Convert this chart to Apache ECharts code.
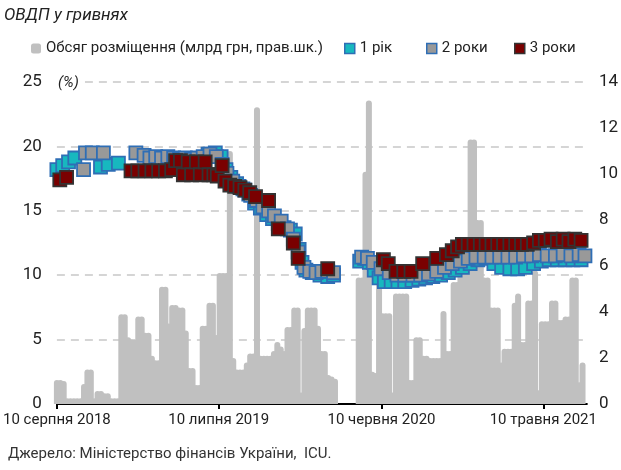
<!DOCTYPE html>
<html><head><meta charset="utf-8">
<script src="https://cdn.jsdelivr.net/npm/echarts@6/dist/echarts.min.js"></script>
<style>html,body{margin:0;padding:0;background:#fff}#c{width:621px;height:470px}</style>
</head><body><div id="c"></div>
<script>
const FONT = 'Roboto, "Liberation Sans", sans-serif';
const titleText = 'ОВДП у гривнях';
const sourceText = 'Джерело: Міністерство фінансів України,  ICU.';
const unitText = '(%)';
const seriesNames = ['Обсяг розміщення (млрд грн, прав.шк.)', '1 рік', '2 роки', '3 роки'];
const xTickDates = ['2018-08-10', '2019-07-10', '2020-06-10', '2021-05-10'];
const xTickLabels = ['10 серпня 2018', '10 липня 2019', '10 червня 2020', '10 травня 2021'];
const xRange = ['2018-08-10', '2021-08-08'];
const leftAxisRange = [0, 25, 5];
const rightAxisRange = [0, 14, 2];

// weekly placement volumes (bn UAH), starting on this date, one value per week
const volumeStartDate = '2018-08-10';
const volumeWeekly = [
  1.04, 1.04, 1.0, 0.25, 0.25, 0.25, 0.25, 0.25, 0.87, 1.5, 1.5, 0.25, 0.57, 0.57, 0.47, 0.47, 0.25, 0.25, 0.25, 3.9,
  3.9, 2.9, 2.8, 2.8, 3.8, 3.8, 3.1, 3.1, 2.1, 1.9, 1.9, 5.1, 5.1, 3.5, 4.3, 4.3, 4.2, 4.2, 3.2, 1.56,
  1.56, 0.83, 0.83, 3.4, 3.4, 4.4, 4.4, 3.0, 5.7, 5.7, 5.7, 11.0, 2.0, 1.5, 1.5, 1.5, 1.8, 2.2, 2.2, 12.9,
  2.1, 2.1, 2.1, 2.1, 2.3, 2.7, 2.5, 2.3, 3.35, 3.35, 4.2, 4.2, 0.5, 3.3, 4.2, 4.2, 4.2, 3.4, 2.3, 2.3,
  1.26, 1.2, 1.1, null, null, null, null, null, null, 5.5,
  5.5, 10.1, 13.2, 1.4, 1.35, 5.3, 3.95, 3.95, 3.95, 0.5,
  4.8, 4.8, 4.8, 4.8, 1.04, 1.04, 2.9, 2.9, 2.1, 2.1,
  2.0, 2.0, 2.0, 2.0, 4.04, 2.3, 2.3, 5.3, 5.3, 5.7,
  5.7, 5.7, 11.5, 11.5, 8.0, 8.0, 5.5, 5.5, 4.2, 4.2,
  4.2, 1.8, 2.4, 2.4, 2.4, 4.4, 4.8, 2.7, 2.7, 4.5,
  4.5, 5.8, 0.6, 3.6, 3.6, 3.6, 4.5, 4.5, 3.65, 3.65,
  3.8, 3.8, 5.5, 5.5, 0.95, 1.8
];

const yield1y = [
  ['2018-08-10', 18.2], ['2018-08-22', 18.5], ['2018-09-03', 18.8], ['2018-09-16', 19.1],
  ['2018-11-08', 18.4], ['2018-11-24', 18.6], ['2018-12-15', 18.7],
  ['2019-06-18', 19.4], ['2019-07-03', 19.5], ['2019-07-15', 19.2], ['2019-07-25', 18.2], ['2019-08-04', 17.6],
  ['2019-08-16', 17.1], ['2019-08-29', 16.7], ['2019-09-10', 16.3], ['2019-09-22', 15.6], ['2019-10-04', 15.2],
  ['2019-10-17', 14.7], ['2019-10-29', 14.4], ['2019-11-10', 14.0], ['2019-11-22', 13.7], ['2019-12-05', 13.5],
  ['2019-12-15', 13.2], ['2019-12-23', 12.0], ['2019-12-29', 11.0], ['2020-01-06', 10.4], ['2020-01-19', 10.2],
  ['2020-02-04', 10.0], ['2020-02-20', 9.9], ['2020-03-03', 10.0],
  ['2020-04-26', 11.1], ['2020-05-06', 11.3], ['2020-05-16', 11.0], ['2020-05-26', 10.4], ['2020-06-05', 9.8],
  ['2020-06-16', 9.5], ['2020-06-30', 9.5], ['2020-07-14', 9.5], ['2020-07-28', 9.5], ['2020-08-12', 9.6],
  ['2020-08-26', 9.7], ['2020-09-09', 9.8], ['2020-09-24', 9.9], ['2020-10-10', 10.0], ['2020-10-26', 10.2],
  ['2020-11-09', 10.4], ['2020-11-24', 10.6], ['2020-12-10', 10.9], ['2020-12-26', 11.2], ['2021-01-12', 11.3],
  ['2021-01-28', 10.9], ['2021-02-13', 10.6], ['2021-03-02', 10.5], ['2021-03-18', 10.5], ['2021-04-03', 10.6],
  ['2021-04-20', 10.9], ['2021-05-06', 11.1], ['2021-05-22', 11.2], ['2021-06-08', 11.2], ['2021-06-24', 11.2],
  ['2021-07-10', 11.2], ['2021-07-27', 11.2]
];

const yield2y = [
  ['2018-10-04', 18.2], ['2018-10-08', 19.5], ['2018-10-22', 19.5], ['2018-11-14', 19.5],
  ['2019-01-20', 19.5], ['2019-02-06', 19.3], ['2019-02-18', 19.1], ['2019-03-02', 19.2], ['2019-03-14', 19.1],
  ['2019-03-27', 19.2], ['2019-04-08', 19.1], ['2019-04-20', 19.0], ['2019-05-02', 19.1], ['2019-05-15', 19.0],
  ['2019-05-27', 19.1], ['2019-06-08', 19.2], ['2019-06-22', 19.4], ['2019-07-05', 19.2], ['2019-07-17', 18.6],
  ['2019-07-27', 17.9], ['2019-08-08', 17.3], ['2019-08-21', 16.9], ['2019-09-02', 16.6], ['2019-09-14', 16.2],
  ['2019-09-26', 15.8], ['2019-10-09', 15.3], ['2019-10-21', 15.0], ['2019-11-02', 14.6], ['2019-11-16', 14.2],
  ['2019-11-29', 13.6], ['2019-12-11', 12.8], ['2019-12-21', 11.8], ['2020-01-02', 10.6], ['2020-01-14', 10.3],
  ['2020-01-27', 10.2], ['2020-02-08', 10.3], ['2020-02-20', 10.3], ['2020-03-03', 10.2],
  ['2020-04-30', 11.4], ['2020-05-12', 11.3], ['2020-05-24', 11.0], ['2020-06-09', 10.5], ['2020-06-26', 10.2],
  ['2020-07-12', 10.0], ['2020-07-28', 10.0], ['2020-08-14', 10.0], ['2020-08-30', 10.0], ['2020-09-15', 10.1],
  ['2020-10-02', 10.3], ['2020-10-18', 10.6], ['2020-11-03', 10.9], ['2020-11-20', 11.1], ['2020-12-06', 11.3],
  ['2020-12-22', 11.4], ['2021-01-08', 11.4], ['2021-01-24', 11.4], ['2021-02-09', 11.4], ['2021-02-26', 11.4],
  ['2021-03-14', 11.4], ['2021-03-30', 11.5], ['2021-04-16', 11.5], ['2021-05-02', 11.6], ['2021-05-18', 11.5],
  ['2021-06-04', 11.5], ['2021-06-20', 11.6], ['2021-07-06', 11.5], ['2021-07-23', 11.6], ['2021-08-04', 11.5]
];

const yield3y = [
  ['2018-08-16', 17.4], ['2018-08-30', 17.6],
  ['2019-01-10', 18.1], ['2019-01-24', 18.1], ['2019-02-08', 18.1], ['2019-02-22', 18.1], ['2019-03-08', 18.1],
  ['2019-03-22', 18.1], ['2019-04-04', 18.2], ['2019-04-12', 18.9], ['2019-04-22', 18.9], ['2019-04-28', 17.8],
  ['2019-05-08', 18.8], ['2019-05-15', 17.8], ['2019-05-25', 18.8], ['2019-06-02', 17.8], ['2019-06-12', 18.8],
  ['2019-06-20', 17.8], ['2019-06-30', 17.8], ['2019-07-07', 17.7], ['2019-07-17', 18.5], ['2019-07-23', 17.3],
  ['2019-08-02', 17.0], ['2019-08-12', 16.9], ['2019-08-23', 16.8], ['2019-09-02', 16.6], ['2019-09-12', 16.4],
  ['2019-09-24', 16.1], ['2019-10-21', 15.8], ['2019-11-10', 13.6], ['2019-12-11', 12.5], ['2019-12-21', 11.3],
  ['2020-02-20', 10.5],
  ['2020-06-14', 11.2], ['2020-06-24', 10.9], ['2020-07-10', 10.3], ['2020-07-26', 10.3], ['2020-08-10', 10.3],
  ['2020-09-03', 10.9], ['2020-10-02', 11.3], ['2020-10-22', 11.6], ['2020-11-03', 11.9], ['2020-11-14', 12.2],
  ['2020-11-24', 12.4], ['2020-12-06', 12.4], ['2020-12-18', 12.4], ['2020-12-31', 12.4], ['2021-01-12', 12.4],
  ['2021-01-24', 12.4], ['2021-02-05', 12.4], ['2021-02-17', 12.4], ['2021-03-02', 12.4], ['2021-03-14', 12.4],
  ['2021-03-26', 12.4], ['2021-04-07', 12.4], ['2021-04-20', 12.5], ['2021-05-02', 12.7], ['2021-05-14', 12.7],
  ['2021-05-26', 12.8], ['2021-06-08', 12.6], ['2021-06-20', 12.8], ['2021-07-02', 12.6], ['2021-07-14', 12.8],
  ['2021-07-27', 12.7]
];

function ts(s) { const p = s.split('-').map(Number); return Date.UTC(p[0], p[1] - 1, p[2]); }
const DAY = 86400000;
const volumeData = [];
volumeWeekly.forEach((v, i) => { if (v !== null) volumeData.push([ts(volumeStartDate) + i * 7 * DAY, v]); });
const toPts = arr => arr.map(d => [ts(d[0]), d[1]]);
const tickTs = xTickDates.map(ts);

const chart = echarts.init(document.getElementById('c'), null, { renderer: 'canvas' });
const txt = { fontFamily: FONT, fontSize: 15, color: '#222' };
const legendCommon = { top: 41, padding: 0, itemWidth: 10, itemHeight: 10, itemGap: 0, textStyle: txt, selectedMode: false };
chart.setOption({
  animation: false,
  backgroundColor: '#fff',
  grid: { left: 52, right: 33, top: 82, bottom: 66, containLabel: false },
  legend: [
    Object.assign({ left: 31, data: [{ name: seriesNames[0], icon: 'roundRect', itemStyle: { color: '#c0c0c0' } }] }, legendCommon),
    Object.assign({ left: 344, data: [{ name: seriesNames[1], icon: 'rect', itemStyle: { color: '#17b8bf', borderColor: '#2f6eb5', borderWidth: 1.5 } }] }, legendCommon),
    Object.assign({ left: 426, data: [{ name: seriesNames[2], icon: 'rect', itemStyle: { color: '#999999', borderColor: '#2f6eb5', borderWidth: 1.5 } }] }, legendCommon),
    Object.assign({ left: 514, data: [{ name: seriesNames[3], icon: 'rect', itemStyle: { color: '#7a0000', borderColor: '#333333', borderWidth: 1.5 } }] }, legendCommon)
  ],
  graphic: [
    { type: 'text', left: 4, top: 7, style: { text: titleText, font: 'italic 17px ' + FONT, fill: '#222' } },
    { type: 'text', left: 8, top: 447, style: { text: sourceText, font: '15px ' + FONT, fill: '#333' } },
    { type: 'text', left: 54, top: 76, z: 10, style: { text: unitText, font: 'italic 15px ' + FONT, fill: '#222', backgroundColor: '#fff', padding: [0, 6, 0, 4] } }
  ],
  xAxis: {
    type: 'value', min: ts(xRange[0]), max: ts(xRange[1]),
    axisLine: { show: true, lineStyle: { color: '#000', width: 2 } },
    axisTick: { show: true, customValues: tickTs, length: 5, lineStyle: { color: '#000', width: 2 } },
    axisLabel: { customValues: tickTs, margin: 9, fontFamily: FONT, fontSize: 15, color: '#222',
      formatter: v => { const k = tickTs.indexOf(v); return k >= 0 ? xTickLabels[k] : ''; } },
    splitLine: { show: false }
  },
  yAxis: [
    { type: 'value', min: leftAxisRange[0], max: leftAxisRange[1], interval: leftAxisRange[2],
      axisLine: { show: false }, axisTick: { show: false },
      axisLabel: { margin: 15, fontFamily: FONT, fontSize: 17, color: '#222' },
      splitLine: { show: true, lineStyle: { color: '#c8c8c8', width: 1.5, type: [8, 6] } } },
    { type: 'value', min: rightAxisRange[0], max: rightAxisRange[1], interval: rightAxisRange[2],
      axisLine: { show: false }, axisTick: { show: false },
      axisLabel: { margin: 12, fontFamily: FONT, fontSize: 17, color: '#222' },
      splitLine: { show: false } }
  ],
  series: [
    { name: seriesNames[0], type: 'bar', yAxisIndex: 1, barWidth: 6, data: volumeData,
      itemStyle: { color: '#c0c0c0', borderRadius: [3, 3, 0, 0] }, z: 1 },
    { name: seriesNames[1], type: 'scatter', symbol: 'rect', symbolSize: 13, data: toPts(yield1y),
      itemStyle: { color: '#17b8bf', borderColor: '#2f6eb5', borderWidth: 1.8, opacity: 1 }, z: 2 },
    { name: seriesNames[2], type: 'scatter', symbol: 'rect', symbolSize: 13, data: toPts(yield2y),
      itemStyle: { color: '#999999', borderColor: '#2f6eb5', borderWidth: 1.8, opacity: 1 }, z: 3 },
    { name: seriesNames[3], type: 'scatter', symbol: 'rect', symbolSize: 13, data: toPts(yield3y),
      itemStyle: { color: '#7a0000', borderColor: '#333333', borderWidth: 1.8, opacity: 1 }, z: 4 }
  ]
});
</script></body></html>
